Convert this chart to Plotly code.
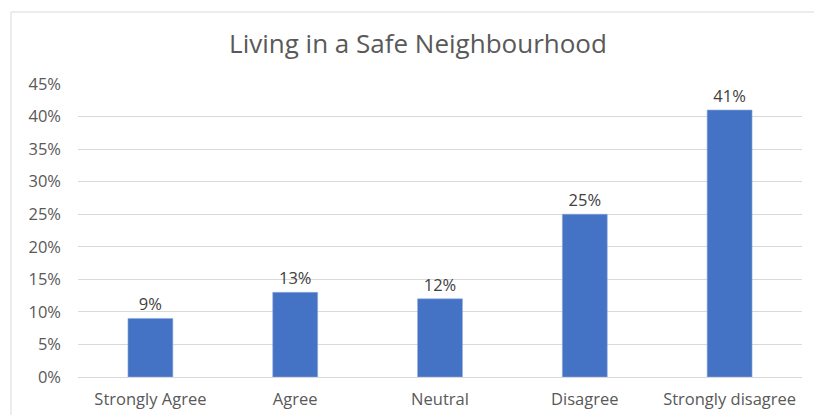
import plotly.graph_objects as go

categories = ["Strongly Agree", "Agree", "Neutral", "Disagree", "Strongly disagree"]
shares = [0.09, 0.13, 0.12, 0.25, 0.41]
tick_values = [0, 0.05, 0.10, 0.15, 0.20, 0.25, 0.30, 0.35, 0.40, 0.45]
tick_labels = ["0%", "5%", "10%", "15%", "20%", "25%", "30%", "35%", "40%", "45%"]

FONT = "'Open Sans', sans-serif"
GREY = "#595959"

fig = go.Figure(
    go.Bar(
        x=categories,
        y=shares,
        marker=dict(color="#4472C4", line=dict(color="#8FAADC", width=0.6)),
        text=[f"{round(v * 100)}%" for v in shares],
        textposition="outside",
        textfont=dict(family=FONT, size=16.5, color="#404040"),
        cliponaxis=False,
    )
)

fig.update_layout(
    width=814,
    height=415,
    margin=dict(l=78, r=12, t=84, b=38),
    paper_bgcolor="white",
    plot_bgcolor="white",
    bargap=0.69,
    showlegend=False,
    title=dict(
        text="Living in a Safe Neighbourhood",
        x=418 / 814,
        xref="container",
        xanchor="center",
        y=1 - 44 / 415,
        yanchor="middle",
        font=dict(family=FONT, size=26, color=GREY),
    ),
    xaxis=dict(
        automargin=False,
        showgrid=False,
        showline=True,
        linecolor="#d9d9d9",
        linewidth=1,
        ticks="",
        tickfont=dict(family=FONT, size=16.5, color=GREY),
        ticklabelstandoff=7,
    ),
    yaxis=dict(
        automargin=False,
        range=[0, 0.45],
        tickvals=tick_values,
        ticktext=tick_labels,
        showgrid=True,
        gridcolor="#d9d9d9",
        gridwidth=1,
        zeroline=False,
        showline=False,
        ticks="",
        tickfont=dict(family=FONT, size=16.5, color=GREY),
        ticklabelstandoff=16,
    ),
    shapes=[
        dict(
            type="rect",
            xref="paper",
            yref="paper",
            x0=(11 - 78) / 724,
            x1=1.2,
            y0=-0.3,
            y1=(377 - 12) / 293,
            line=dict(color="#d9d9d9", width=1),
            fillcolor="rgba(0,0,0,0)",
            layer="below",
        )
    ],
)

fig.write_html("out.html")
